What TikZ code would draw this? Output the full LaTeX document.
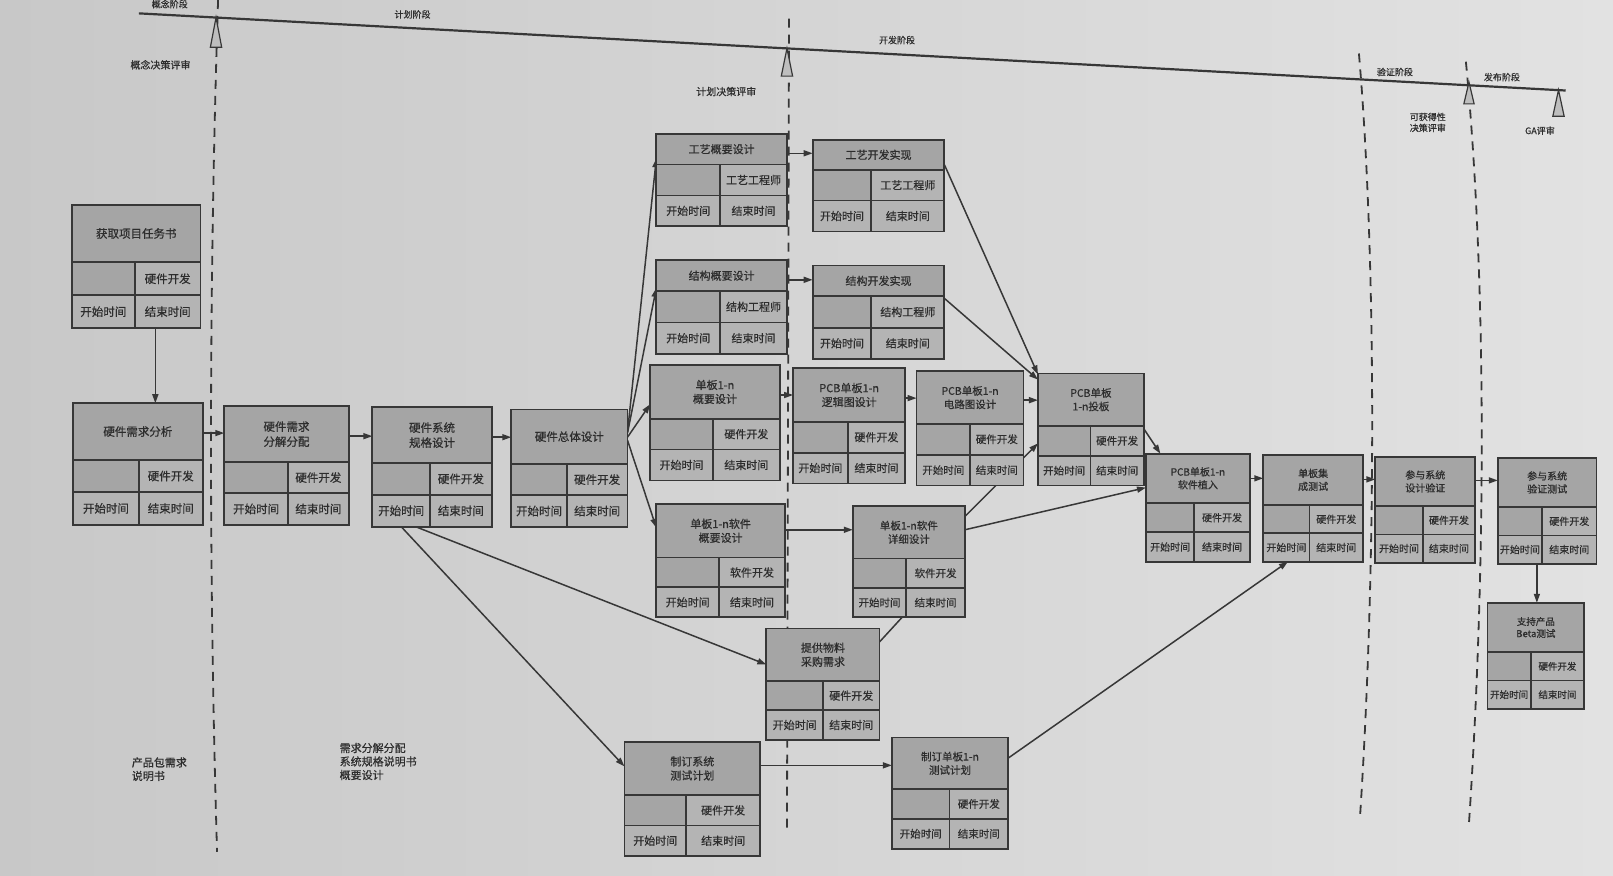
\documentclass[tikz,border=0pt]{standalone}
\usepackage{fontspec}
\newfontfamily\cjk[FakeBold=0.6]{Noto Sans CJK SC}
\usetikzlibrary{arrows.meta,fit}
\pgfdeclarelayer{back}\pgfdeclarelayer{bg}
\pgfsetlayers{back,bg,main}
\definecolor{pagel}{RGB}{200,200,200}
\definecolor{pager}{RGB}{226,226,226}
\definecolor{hdrc}{RGB}{165,165,165}
\definecolor{cellc}{RGB}{180,180,180}
\definecolor{linec}{RGB}{55,55,55}
\definecolor{txtc}{RGB}{45,45,45}
\definecolor{trif}{RGB}{190,190,190}
\def\fsz{11}\def\fszb{14}
\newcommand{\setfs}[2]{\def\fsz{#1}\def\fszb{#2}}
\tikzset{
  boxframe/.style={inner sep=0pt, outer sep=0pt, fill=cellc},
  boxline/.style={draw=linec, line width=1.8pt},
  titletext/.style={font=\cjk\fontsize{\fsz pt}{\fszb pt}\selectfont, text=txtc, align=center, inner sep=0pt},
  celltext/.style={font=\cjk\fontsize{\fsz pt}{\fszb pt}\selectfont, text=txtc, inner sep=0pt},
  conn/.style={draw=linec, line width=1.5pt, -{Triangle[length=9pt,width=6pt]}},
  plainconn/.style={draw=linec, line width=1.5pt},
  phaseline/.style={draw=linec, line width=1.8pt, dash pattern=on 9pt off 7pt},
  lbl/.style={font=\cjk\fontsize{10}{13}\selectfont, text=txtc, inner sep=0pt, align=center},
  smalllbl/.style={font=\cjk\fontsize{9}{11}\selectfont, text=txtc, inner sep=0pt, align=center},
  doclbl/.style={font=\cjk\fontsize{11}{13.5}\selectfont, text=txtc, inner sep=0pt, align=left, anchor=north west},
  milestone/.style={draw=linec, line width=1.2pt, fill=trif}
}
% name, x1, y1, x2, y2, header bottom, column divider, title, role
\newcommand{\tbox}[9]{%
  \node[boxframe, fit={(#2,#3)(#4,#5)}] (#1) {};
  \fill[hdrc] (#2,#3) rectangle (#4,#6);
  \fill[hdrc] (#2,#6) rectangle (#7,{(#6+#5)/2});
  \draw[boxline] (#2,#6) -- (#4,#6) (#2,{(#6+#5)/2}) -- (#4,{(#6+#5)/2}) (#7,#6) -- (#7,#5);
  \draw[boxline] (#2,#3) rectangle (#4,#5);
  \node[titletext] at ({(#2+#4)/2},{(#3+#6)/2}) {#8};
  \node[celltext] at ({(#7+#4)/2},{(3*#6+#5)/4}) {#9};
  \node[celltext] at ({(#2+#7)/2},{(#6+3*#5)/4}) {开始时间};
  \node[celltext] at ({(#7+#4)/2},{(#6+3*#5)/4}) {结束时间};
}
\begin{document}
\begin{tikzpicture}[x=1.0287pt,y=-1.0287pt]
\useasboundingbox (0,0) rectangle (1568,850.6);
\begin{pgfonlayer}{back}
  \shade[left color=pagel, right color=pager] (0,0) rectangle (1568,850.6);
\end{pgfonlayer}

% phase separators
\begin{pgfonlayer}{bg}
  \draw[phaseline] (212,0) .. controls (203,280) and (203,560) .. (211,828);
  \draw[phaseline] (767,18) -- (765,810);
  \draw[phaseline] (1321,52) .. controls (1338,250) and (1338,550) .. (1322,795);
  \draw[phaseline] (1425,60) .. controls (1446,280) and (1444,560) .. (1428,800);
\end{pgfonlayer}

% timeline
\draw[draw=linec, line width=2.2pt] (135,13) -- (1522,88);
\draw[milestone] (210,17) -- (215.5,46) -- (204.5,46) -- cycle;
\draw[milestone] (765,47) -- (770.5,74) -- (759.5,74) -- cycle;
\draw[milestone] (1428,80) -- (1433,101) -- (1423,101) -- cycle;
\draw[milestone] (1515,87.5) -- (1520.5,113) -- (1509.5,113) -- cycle;

% phase labels
\node[smalllbl] (p1) at (165,4) {概念阶段};
\node[smalllbl] (p2) at (401,14) {计划阶段};
\node[smalllbl] (p3) at (872,39) {开发阶段};
\node[smalllbl] (p4) at (1356,70) {验证阶段};
\node[smalllbl] (p5) at (1460,75) {发布阶段};
\node[lbl] (r1) at (156,63) {概念决策评审};
\node[lbl] (r2) at (706,89) {计划决策评审};
\node[smalllbl] (r3) at (1388,119) {可获得性\\决策评审};
\node[smalllbl] (r4) at (1497,127) {GA评审};
\node[doclbl] (d1) at (128,736) {产品包需求\\说明书};
\node[doclbl] (d2) at (330,722) {需求分解分配\\系统规格说明书\\概要设计};

% task boxes
\setfs{11.5}{15}
\tbox{n1}{70}{199}{195}{319}{255}{131}{获取项目任务书}{硬件开发}
\tbox{n2}{71}{392}{197}{510}{447}{135}{硬件需求分析}{硬件开发}
\tbox{n3}{218}{395}{339}{510}{449}{280}{硬件需求\\分解分配}{硬件开发}
\tbox{n4}{362}{396}{478}{512}{450}{418}{硬件系统\\规格设计}{硬件开发}
\tbox{n5}{497}{398}{610}{512}{451}{551}{硬件总体设计}{硬件开发}
\setfs{11}{14}
\tbox{n6}{638}{130}{765}{220}{160}{700}{工艺概要设计}{工艺工程师}
\tbox{n7}{790}{136}{918}{225}{165}{847}{工艺开发实现}{工艺工程师}
\tbox{n8}{638}{253}{765}{344}{283}{700}{结构概要设计}{结构工程师}
\tbox{n9}{790}{258}{918}{349}{288}{847}{结构开发实现}{结构工程师}
\tbox{n10}{632}{355}{758}{467}{407}{693}{单板1-n\\概要设计}{硬件开发}
\tbox{n11}{771}{358}{880}{470}{410}{824}{PCB单板1-n\\逻辑图设计}{硬件开发}
\tbox{n14}{638}{490}{763}{600}{542}{699}{单板1-n软件\\概要设计}{软件开发}
\tbox{n16}{745}{611}{855}{719}{662}{800}{提供物料\\采购需求}{硬件开发}
\tbox{n17}{607}{721}{739}{832}{773}{667}{制订系统\\测试计划}{硬件开发}
\setfs{10.5}{13.5}
\tbox{n12}{891}{361}{995}{472}{412}{943}{PCB单板1-n\\电路图设计}{硬件开发}
\tbox{n13}{1009}{363}{1112}{472}{414}{1060}{PCB单板\\1-n投板}{硬件开发}
\tbox{n15}{829}{492}{938}{600}{543}{881}{单板1-n软件\\详细设计}{软件开发}
\tbox{n18}{867}{717}{980}{825}{767}{923}{制订单板1-n\\测试计划}{硬件开发}
\setfs{10}{13}
\tbox{n19}{1114}{441}{1215}{546}{489}{1161}{PCB单板1-n\\软件植入}{硬件开发}
\tbox{n20}{1228}{442}{1325}{546}{491}{1273}{单板集\\成测试}{硬件开发}
\tbox{n21}{1337}{444}{1434}{547}{492}{1383}{参与系统\\设计验证}{硬件开发}
\tbox{n22}{1456}{445}{1552}{548}{493}{1499}{参与系统\\验证测试}{硬件开发}
\setfs{9.5}{12}
\tbox{n23}{1446}{586}{1540}{689}{634}{1488}{支持产品\\Beta测试}{硬件开发}

% connectors
\begin{pgfonlayer}{bg}
  \draw[conn] (n1.south -| 151,0) -- (n2.north -| 151,0);
  \draw[conn] (n2.east |- 0,421) -- (n3.west |- 0,421);
  \draw[conn] (n3.east |- 0,424) -- (n4.west |- 0,424);
  \draw[conn] (n4.east |- 0,425) -- (n5.west |- 0,425);
  \draw[conn] (n5.east |- 0,420) -- (n6.west |- 0,154);
  \draw[conn] (n5.east |- 0,421) -- (n8.west |- 0,280);
  \draw[conn] (n5.east |- 0,425) -- (n10.west |- 0,393);
  \draw[conn] (n5.east |- 0,428) -- (n14.west |- 0,513);
  \draw[conn] (n6.east |- 0,149) -- (n7.west |- 0,149);
  \draw[conn] (n8.east |- 0,272) -- (n9.west |- 0,272);
  \draw[conn] (n10.east |- 0,384) -- (n11.west |- 0,384);
  \draw[conn] (n11.east |- 0,387) -- (n12.west |- 0,387);
  \draw[conn] (n12.east |- 0,389) -- (n13.west |- 0,389);
  \draw[conn] (n7.east |- 0,160) -- (n13.west |- 0,364);
  \draw[conn] (n9.east |- 0,290) -- (n13.west |- 0,369);
  \draw[conn] (n15.east |- 0,502) -- (n13.west |- 0,431);
  \draw[conn] (n14.east |- 0,515) -- (n15.west |- 0,515);
  \draw[conn] (n15.east |- 0,515) -- (n19.west |- 0,474);
  \draw[conn] (n13.east |- 0,417) -- (n19.north -| 1128,0);
  \draw[plainconn] (n15.south -| 877,0) -- (n16.east |- 0,624);
  \draw[conn] (n4.south -| 404,0) -- (n16.west |- 0,646);
  \draw[conn] (n4.south -| 390,0) -- (n17.west |- 0,745);
  \draw[conn] (n17.east |- 0,744) -- (n18.west |- 0,744);
  \draw[conn] (n18.east |- 0,737) -- (n20.south -| 1252,0);
  \draw[conn] (n19.east |- 0,465) -- (n20.west |- 0,465);
  \draw[conn] (n20.east |- 0,466) -- (n21.west |- 0,466);
  \draw[conn] (n21.east |- 0,467) -- (n22.west |- 0,467);
  \draw[conn] (n22.south -| 1494,0) -- (n23.north -| 1494,0);
\end{pgfonlayer}
\end{tikzpicture}
\end{document}
